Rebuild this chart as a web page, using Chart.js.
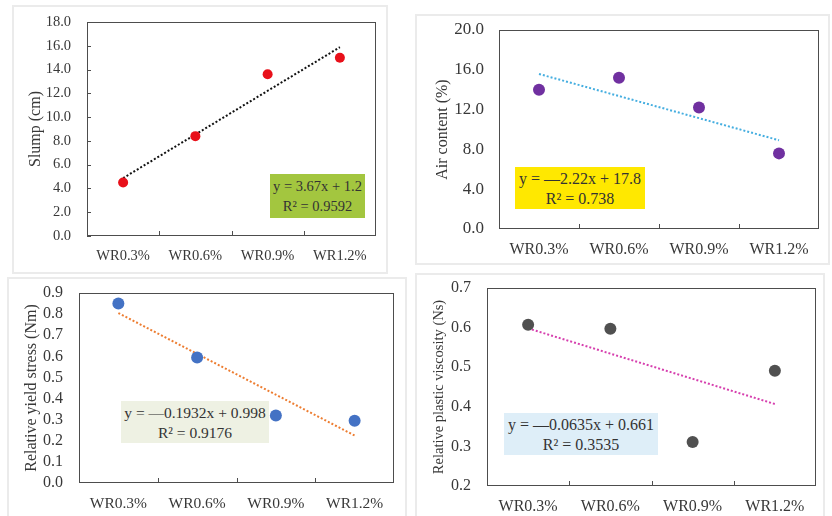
<!DOCTYPE html>
<html>
<head>
<meta charset="utf-8">
<script src="https://cdn.jsdelivr.net/npm/chart.js@4.4.1/dist/chart.umd.min.js"></script>
<style>
  html, body { margin: 0; padding: 0; background: #fff; }
  body { width: 832px; height: 516px; position: relative; overflow: hidden; font-family: "Liberation Serif", "Times New Roman", serif; }
  .card { position: absolute; border: 2px solid #ebebeb; box-sizing: border-box; }
  .chart { position: absolute; }
  .eq { position: absolute; color: #333; text-align: center; line-height: 20px; box-sizing: border-box; padding-top: 2px; }
</style>
</head>
<body>
<div class="card" style="left:12px;top:5px;width:376px;height:269px"></div>
<div class="card" style="left:415px;top:14px;width:415px;height:251px"></div>
<div class="card" style="left:7px;top:277px;width:400px;height:250px"></div>
<div class="card" style="left:415px;top:273px;width:410px;height:250px"></div>

<div class="chart" style="left:13px;top:6px;width:374px;height:267px"><canvas id="c1"></canvas></div>
<div class="chart" style="left:416px;top:15px;width:413px;height:249px"><canvas id="c2"></canvas></div>
<div class="chart" style="left:8px;top:278px;width:398px;height:238px"><canvas id="c3"></canvas></div>
<div class="chart" style="left:416px;top:274px;width:408px;height:242px"><canvas id="c4"></canvas></div>

<div class="eq" style="left:270px;top:174px;width:95px;height:44px;background:#a3c63f;font-size:14.5px">y = 3.67x + 1.2<br>R² = 0.9592</div>
<div class="eq" style="left:515px;top:167px;width:130px;height:42px;background:#ffe800;font-size:16px">y = —2.22x + 17.8<br>R² = 0.738</div>
<div class="eq" style="left:121px;top:401px;width:148px;height:42px;background:#eef1e3;font-size:15.5px">y = —0.1932x + 0.998<br>R² = 0.9176</div>
<div class="eq" style="left:504px;top:413px;width:154px;height:42px;background:#deeef8;font-size:16px">y = —0.0635x + 0.661<br>R² = 0.3535</div>

<script>
const SERIF = '"Liberation Serif", "Times New Roman", serif';
const INK = "#383838";

const categories = ["WR0.3%", "WR0.6%", "WR0.9%", "WR1.2%"];

const slump = [4.5, 8.4, 13.6, 15.0];
const airContent = [14.0, 15.2, 12.2, 7.6];
const yieldStress = [0.85, 0.595, 0.32, 0.295];
const plasticViscosity = [0.607, 0.597, 0.311, 0.491];

// trendline end values (at WR0.3% and WR1.2%), from the fitted equations
const slumpTrend = [4.87, 15.88];
const airTrend = [15.58, 8.92];
const yieldTrend = [0.805, 0.225];
const viscosityTrend = [0.598, 0.407];

// y axis ranges: min, max, step
const slumpRange = [0, 18, 2];
const airRange = [0, 20, 4];
const yieldRange = [0, 0.9, 0.1];
const viscosityRange = [0.2, 0.7, 0.1];

// plot frame + inward tick marks
const frame = {
  id: "frame",
  afterDraw(chart, args, opts) {
    const { ctx, chartArea: a, scales: { x, y } } = chart;
    ctx.save();
    ctx.strokeStyle = "#4d4d4d";
    ctx.lineWidth = 1;
    ctx.strokeRect(Math.round(a.left) + .5, Math.round(a.top) + .5, Math.round(a.width) - 1, Math.round(a.height) - 1);
    ctx.beginPath();
    for (let i = 0; i < x.ticks.length - 1; i++) {
      const px = Math.round((x.getPixelForTick(i) + x.getPixelForTick(i + 1)) / 2) + .5;
      ctx.moveTo(px, a.bottom);
      ctx.lineTo(px, a.bottom - 5);
    }
    if (opts.yTicks) {
      y.ticks.forEach((t, i) => {
        const py = Math.round(y.getPixelForTick(i)) + .5;
        ctx.moveTo(a.left, py);
        ctx.lineTo(a.left + 4, py);
      });
    }
    ctx.stroke();
    ctx.restore();
  },
};

function panel(id, p) {
  const trendData = [p.trend[0], null, null, p.trend[1]];
  new Chart(document.getElementById(id), {
    type: "line",
    data: {
      labels: categories,
      datasets: [
        { data: p.values, showLine: false, pointRadius: p.radius, pointBackgroundColor: p.color, pointBorderColor: p.color, pointBorderWidth: 0, order: 0 },
        { data: trendData, spanGaps: true, borderColor: p.trendColor, borderWidth: 2, borderDash: [2, 2], pointRadius: 0, order: 1 },
      ],
    },
    options: {
      responsive: true, maintainAspectRatio: false, animation: false,
      layout: { padding: p.pad },
      plugins: { legend: { display: false }, tooltip: { enabled: false }, frame: { yTicks: p.yTicks } },
      scales: {
        x: {
          offset: true,
          grid: { display: false, offset: true },
          border: { display: false },
          ticks: { color: INK, font: { family: SERIF, size: p.xFont }, padding: p.xPad, maxRotation: 0, autoSkip: false },
          afterFit: (s) => { s.height = p.xH; s.paddingLeft = 0; s.paddingRight = 0; },
        },
        y: {
          min: p.range[0], max: p.range[1],
          grid: { display: false, drawTicks: false },
          border: { display: false },
          ticks: { stepSize: p.range[2], autoSkip: false, color: INK, padding: p.yPad, font: { family: SERIF, size: p.yFont }, callback: (v) => v.toFixed(1) },
          title: { display: true, text: p.title, color: INK, font: { family: SERIF, size: p.titleFont }, padding: { top: p.titlePad, bottom: 0 } },
          afterFit: (s) => { s.width = p.yW; s.paddingTop = 0; s.paddingBottom = 0; },
        },
      },
    },
    plugins: [frame],
  });
}

panel("c1", {
  values: slump, trend: slumpTrend, range: slumpRange, title: "Slump (cm)",
  color: "#e8101a", trendColor: "#111111", radius: 5, yTicks: true,
  pad: { top: 16, right: 11, left: 0, bottom: 0 }, yW: 74, xH: 37,
  xFont: 14.5, yFont: 14.5, titleFont: 16, titlePad: 13, yPad: 16, xPad: 3,
});

panel("c2", {
  values: airContent, trend: airTrend, range: airRange, title: "Air content (%)",
  color: "#7030a0", trendColor: "#45aee0", radius: 6, yTicks: false,
  pad: { top: 15, right: 10, left: 0, bottom: 0 }, yW: 83, xH: 35,
  xFont: 16, yFont: 17, titleFont: 16, titlePad: 17, yPad: 15, xPad: 3,
});

panel("c3", {
  values: yieldStress, trend: yieldTrend, range: yieldRange, title: "Relative yield stress (Nm)",
  color: "#4472c4", trendColor: "#ed7d31", radius: 6, yTicks: false,
  pad: { top: 15, right: 12, left: 0, bottom: 0 }, yW: 71, xH: 33,
  xFont: 15.5, yFont: 16, titleFont: 16, titlePad: 14, yPad: 16, xPad: 4,
});

panel("c4", {
  values: plasticViscosity, trend: viscosityTrend, range: viscosityRange, title: "Relative plastic viscosity (Ns)",
  color: "#505050", trendColor: "#d63fae", radius: 6, yTicks: false,
  pad: { top: 14, right: 8, left: 0, bottom: 0 }, yW: 71, xH: 30,
  xFont: 16, yFont: 16, titleFont: 14.5, titlePad: 14, yPad: 16, xPad: 3,
});
</script>
</body>
</html>
